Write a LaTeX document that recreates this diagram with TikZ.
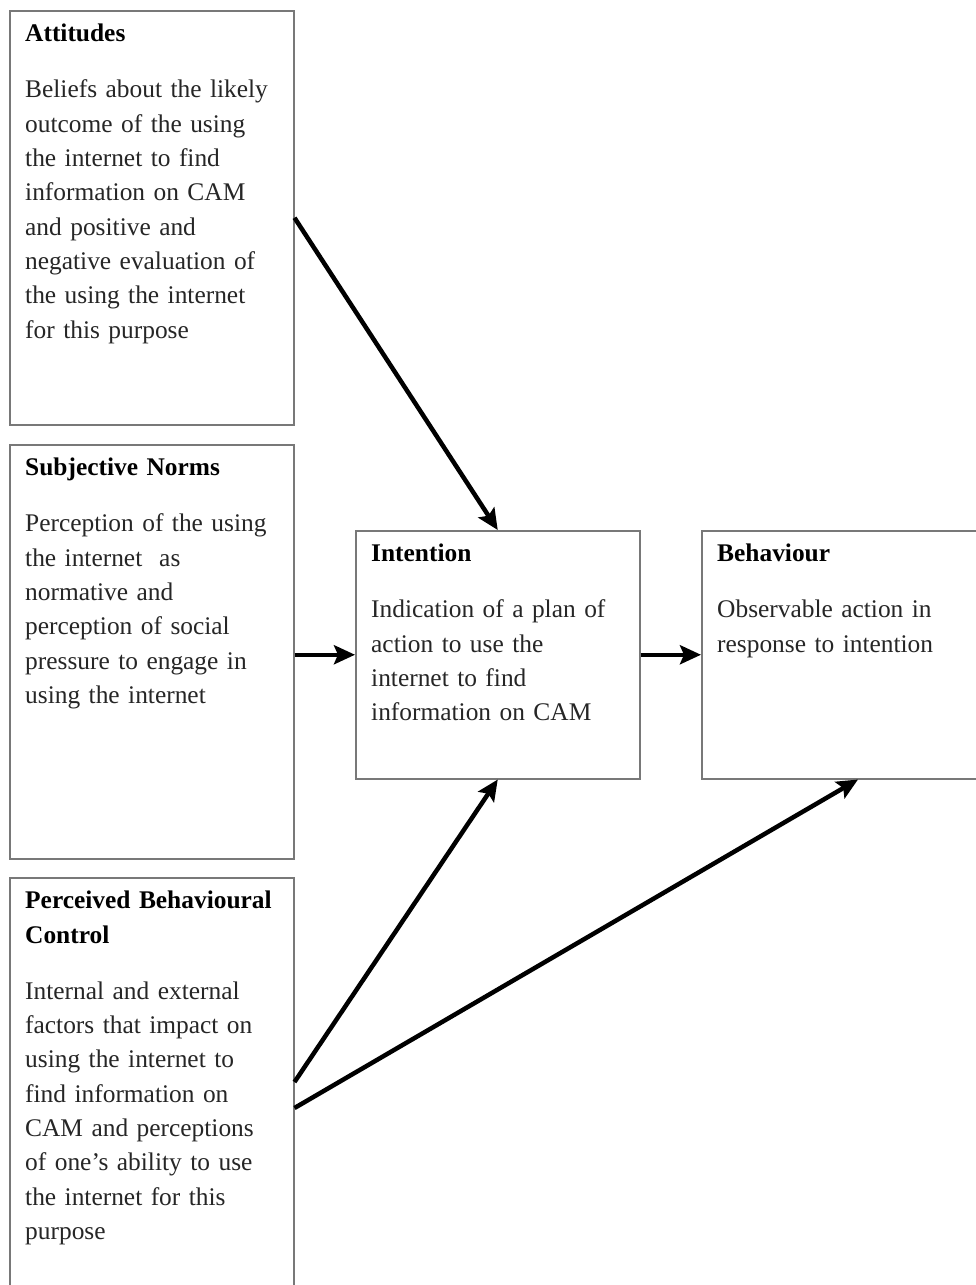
\documentclass[tikz,border=0pt]{standalone}
\usepackage{fontspec}
\setmainfont{Liberation Serif}
\usetikzlibrary{arrows.meta,positioning,calc}

\tikzset{
  box/.style={draw={rgb,255:red,120;green,120;blue,120}, line width=1.5bp,
    minimum width=284bp, anchor=north west, inner sep=0pt},
  txt/.style={inner sep=0pt, text width=270bp, align=left, text=black!85,
    font=\fontsize{25.5}{34.5}\selectfont},
  arr/.style={line width=4.5bp, -{Stealth[length=21bp,width=19bp,inset=4bp]}}
}

\begin{document}
\begin{tikzpicture}[x=1bp,y=1bp]
  \path[fill=white,use as bounding box] (0,0) rectangle (976,-1285);
  \clip (0,0) rectangle (976,-1285);

  % the five boxes
  \node[box, minimum height=414bp] (att) at (9,-10) {};
  \node[box, minimum height=414bp] (sub) at (9,-444) {};
  \node[box, minimum height=440bp] (pbc) at (9,-877) {};
  \node[box, minimum height=248bp] (int) at (355,-530) {};
  \node[box, minimum height=248bp] (beh) at (701,-530) {};

  % their texts
  \node[txt, below right=14bp and 16bp of att.north west] (att-t)
    {\textbf{\color{black}Attitudes}\\[21.5bp]
     Beliefs about the likely\\ outcome of the using\\ the internet to find\\
     information on CAM\\ and positive and\\ negative evaluation of\\
     the using the internet\\ for this purpose};
  \node[txt, below right=14bp and 16bp of sub.north west] (sub-t)
    {\textbf{\color{black}Subjective Norms}\\[21.5bp]
     Perception of the using\\ the internet~ as\\ normative and\\
     perception of social\\ pressure to engage in\\ using the internet};
  \node[txt, below right=14bp and 16bp of pbc.north west] (pbc-t)
    {\textbf{\color{black}Perceived Behavioural}\\ \textbf{\color{black}Control}\\[21.5bp]
     Internal and external\\ factors that impact on\\ using the internet to\\
     find information on\\ CAM and perceptions\\ of one’s ability to use\\
     the internet for this\\ purpose};
  \node[txt, below right=14bp and 16bp of int.north west] (int-t)
    {\textbf{\color{black}Intention}\\[21.5bp]
     Indication of a plan of\\ action to use the\\ internet to find\\
     information on CAM};
  \node[txt, below right=14bp and 16bp of beh.north west] (beh-t)
    {\textbf{\color{black}Behaviour}\\[21.5bp]
     Observable action in\\ response to intention};

  % where the lower arrows leave and land
  \coordinate (pbc-a) at ($(pbc.north east)+(0,-205)$);
  \coordinate (pbc-b) at ($(pbc.north east)+(0,-231)$);
  \coordinate (beh-in) at ($(beh.south west)+(157,0)$);

  \draw[arr] (att.east) -- (int.north);
  \draw[arr] (sub.east |- int.west) -- (int.west);
  \draw[arr] (int.east) -- (beh.west);
  \draw[arr] (pbc-a) -- (int.south);
  \draw[arr] (pbc-b) -- (beh-in);
\end{tikzpicture}
\end{document}
